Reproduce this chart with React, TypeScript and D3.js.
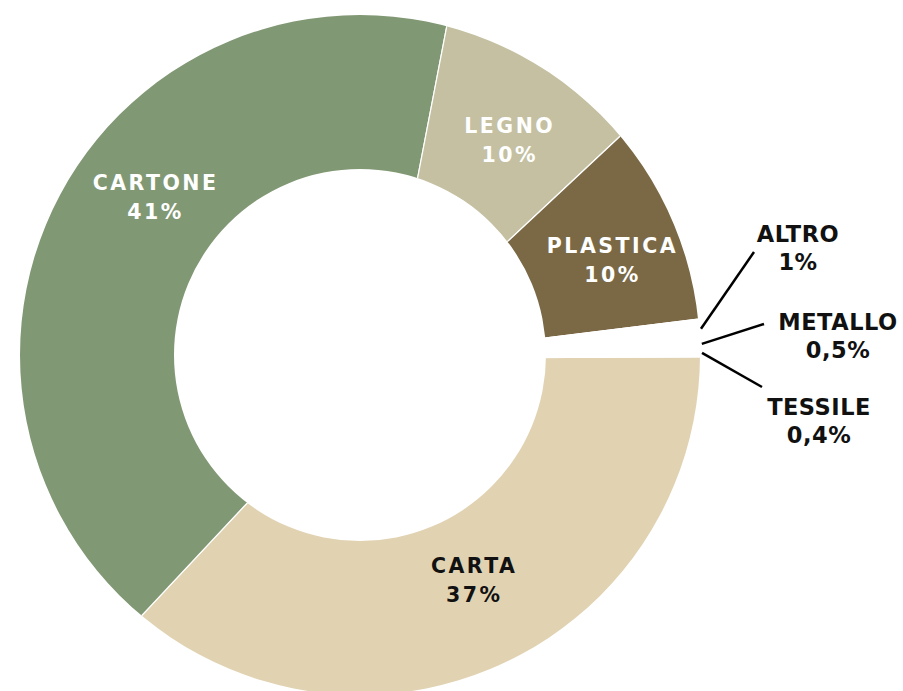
import React from "react";
import * as d3 from "d3";

const categories = ["CARTA", "CARTONE", "LEGNO", "PLASTICA", "ALTRO", "METALLO", "TESSILE"];
const values = [37, 41, 10, 10, 1, 0.5, 0.4];
const valueLabels = ["37%", "41%", "10%", "10%", "1%", "0,5%", "0,4%"];
const colors = ["#e1d3b2", "#819874", "#c4c0a1", "#7b6946", "#ffffff", "#ffffff", "#ffffff"];
const textColors = ["#111111", "#ffffff", "#ffffff", "#ffffff", "#111111", "#111111", "#111111"];

const W = 903;
const H = 691;
// ring centre
const cx = 360;
const cy = 355;
const outerR = 340;
const innerR = 186;
// wedge apex offset from ring centre
const apexDx = 23;
const apexDy = 3;
const startDeg = 89.8;

const innerNudge: Record<string, [number, number]> = {
  CARTA: [-10, -7],
  CARTONE: [25, -32],
  LEGNO: [3, 3.5],
  PLASTICA: [8, 5],
};
const outerLayout: Record<string, { end: [number, number]; text: [number, number] }> = {
  ALTRO: { end: [394, -103], text: [438, -113] },
  METALLO: { end: [404, -31], text: [478, -25] },
  TESSILE: { end: [402, 32], text: [459, 60] },
};

// distance along ray from apex (angle a, clockwise from top) to a circle of radius R around ring centre
function rayT(a: number, R: number) {
  const ux = Math.sin(a);
  const uy = -Math.cos(a);
  const b = apexDx * ux + apexDy * uy;
  const c = apexDx * apexDx + apexDy * apexDy - R * R;
  return -b + Math.sqrt(b * b - c);
}

export default function App() {
  const start = (startDeg * Math.PI) / 180;
  const pie = d3
    .pie<number>()
    .sort(null)
    .value((d) => d)
    .startAngle(start)
    .endAngle(start + 2 * Math.PI);
  const arcs = pie(values);
  const wedge = d3.arc<d3.PieArcDatum<number>>().innerRadius(0).outerRadius(outerR * 1.6);
  const ringPath =
    `M${-outerR},0a${outerR},${outerR} 0 1,0 ${2 * outerR},0a${outerR},${outerR} 0 1,0 ${-2 * outerR},0Z` +
    `M${-innerR},0a${innerR},${innerR} 0 1,0 ${2 * innerR},0a${innerR},${innerR} 0 1,0 ${-2 * innerR},0Z`;

  return (
    <svg width={W} height={H} style={{ position: "absolute", left: 0, top: 0, background: "#fff" }}>
      <defs>
        <clipPath id="ring">
          <path d={ringPath} clipRule="evenodd" />
        </clipPath>
      </defs>
      <g transform={`translate(${cx},${cy})`}>
        <g clipPath="url(#ring)">
          <g transform={`translate(${apexDx},${apexDy})`}>
            {arcs.map((a, i) => (
              <path key={i} d={wedge(a) || ""} fill={colors[i]} stroke="#ffffff" strokeWidth={1.2} />
            ))}
          </g>
        </g>
        {arcs.map((a, i) => {
          const name = categories[i];
          const nudge = innerNudge[name];
          if (!nudge) return null;
          const m = (a.startAngle + a.endAngle) / 2;
          const t = (rayT(m, outerR) + rayT(m, innerR)) / 2;
          const x = apexDx + Math.sin(m) * t + nudge[0];
          const y = apexDy - Math.cos(m) * t + nudge[1];
          return (
            <text
              key={"l" + i}
              textAnchor="middle"
              fill={textColors[i]}
              fontFamily="'DejaVu Sans', sans-serif"
              fontWeight="bold"
              fontSize={20.5}
              letterSpacing={2.5}
            >
              <tspan x={x + 1.25} y={y - 7}>{name}</tspan>
              <tspan x={x + 1.25} y={y + 22}>{valueLabels[i]}</tspan>
            </text>
          );
        })}
        {arcs.map((a, i) => {
          const name = categories[i];
          const lay = outerLayout[name];
          if (!lay) return null;
          const m = (a.startAngle + a.endAngle) / 2;
          const t = rayT(m, outerR + 2);
          const sx = apexDx + Math.sin(m) * t;
          const sy = apexDy - Math.cos(m) * t;
          return (
            <g key={"o" + i}>
              <line x1={sx} y1={sy} x2={lay.end[0]} y2={lay.end[1]} stroke="#000" strokeWidth={2.5} />
              <text
                textAnchor="middle"
                fill={textColors[i]}
                fontFamily="'DejaVu Sans', sans-serif"
                fontWeight="bold"
                fontSize={22.5}
                letterSpacing={0.5}
              >
                <tspan x={lay.text[0]} y={lay.text[1]}>{name}</tspan>
                <tspan x={lay.text[0]} y={lay.text[1] + 28}>{valueLabels[i]}</tspan>
              </text>
            </g>
          );
        })}
      </g>
    </svg>
  );
}
